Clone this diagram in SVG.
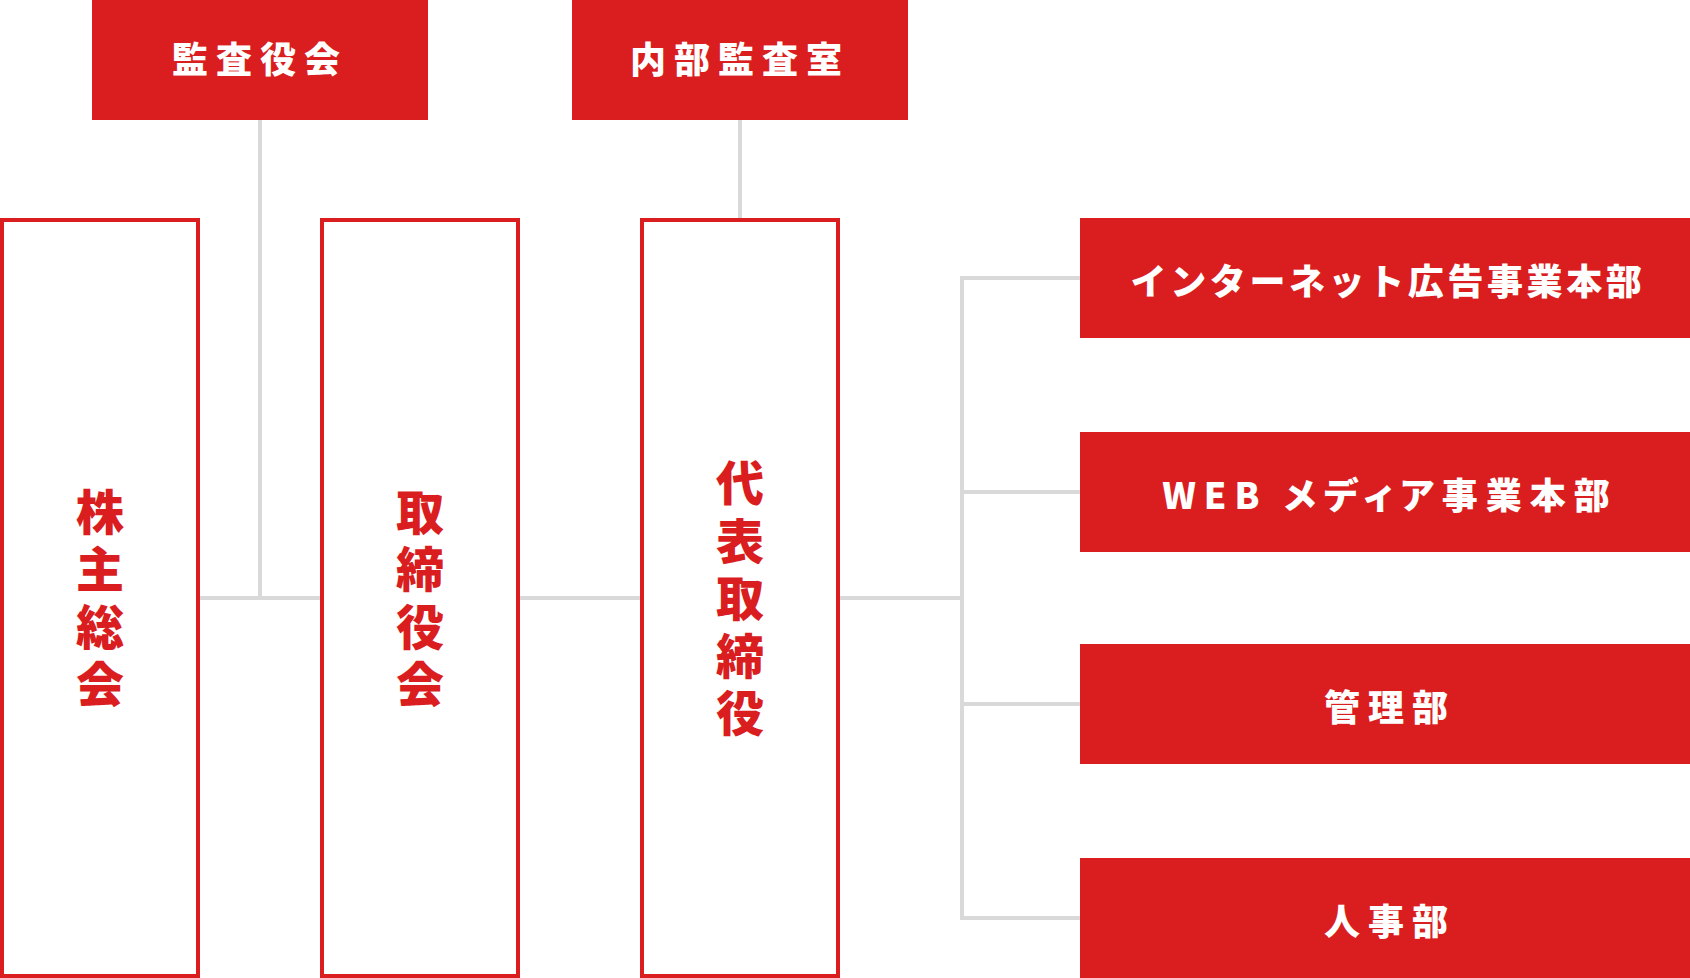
<svg xmlns="http://www.w3.org/2000/svg" width="1690" height="978" viewBox="0 0 1690 978">
<style>
.fill{fill:#da1d1e}
.outline{fill:#ffffff;stroke:#da1d1e;stroke-width:4}
.conn{fill:none;stroke:#d9d9d9;stroke-width:4}
.wt{fill:#ffffff;font-family:"Noto Sans CJK JP","Noto Sans",sans-serif;font-weight:900;font-size:36px;letter-spacing:8px;text-anchor:middle;dominant-baseline:central;font-feature-settings:"palt"}
.tight{letter-spacing:3.6px;font-feature-settings:normal}
.vt{fill:#da1d1e;font-family:"Noto Sans CJK JP","Noto Sans",sans-serif;font-weight:900;font-size:48px;text-anchor:middle;dominant-baseline:central}
</style>
<rect width="1690" height="978" fill="#ffffff"/>
<g id="connectors">
<path class="conn" d="M260 120V598"/>
<path class="conn" d="M740 120V218"/>
<path class="conn" d="M200 598H320M520 598H640M840 598H962"/>
<path class="conn" d="M1080 278H962V918H1080M962 492H1080M962 704H1080"/>
</g>
<g id="kansayakukai">
<rect class="fill" x="92" y="0" width="336" height="120"/>
<text class="wt" x="260" y="57">監査役会</text>
</g>
<g id="naibukansashitsu">
<rect class="fill" x="572" y="0" width="336" height="120"/>
<text class="wt" x="740" y="57">内部監査室</text>
</g>
<g id="kabunushisoukai">
<rect class="outline" x="2" y="220" width="196" height="756"/>
<text class="vt"><tspan x="100" y="508.75">株</tspan><tspan x="100" y="566.25">主</tspan><tspan x="100" y="623.75">総</tspan><tspan x="100" y="681.25">会</tspan></text>
</g>
<g id="torishimariyakukai">
<rect class="outline" x="322" y="220" width="196" height="756"/>
<text class="vt"><tspan x="420" y="508.75">取</tspan><tspan x="420" y="566.25">締</tspan><tspan x="420" y="623.75">役</tspan><tspan x="420" y="681.25">会</tspan></text>
</g>
<g id="daihyoutorishimariyaku">
<rect class="outline" x="642" y="220" width="196" height="756"/>
<text class="vt"><tspan x="740" y="480">代</tspan><tspan x="740" y="537.5">表</tspan><tspan x="740" y="595">取</tspan><tspan x="740" y="652.5">締</tspan><tspan x="740" y="710">役</tspan></text>
</g>
<g id="internet">
<rect class="fill" x="1080" y="218" width="620" height="120"/>
<text class="wt tight" x="1388" y="279">インターネット広告事業本部</text>
</g>
<g id="webmedia">
<rect class="fill" x="1080" y="432" width="620" height="120"/>
<text class="wt" x="1390" y="493">WEB メディア事業本部</text>
</g>
<g id="kanri">
<rect class="fill" x="1080" y="644" width="620" height="120"/>
<text class="wt" x="1390" y="705">管理部</text>
</g>
<g id="jinji">
<rect class="fill" x="1080" y="858" width="620" height="120"/>
<text class="wt" x="1390" y="919">人事部</text>
</g>
</svg>
